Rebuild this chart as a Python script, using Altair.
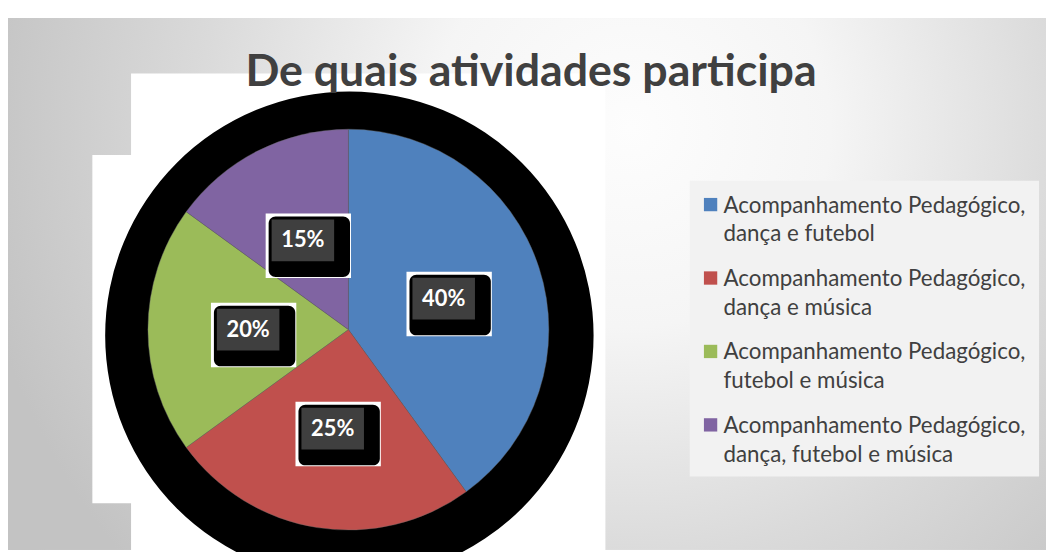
import math
import altair as alt
import pandas as pd

# ---------------- data ----------------
title_text = "De quais atividades participa"
categories = [
    "Acompanhamento Pedagógico, dança e futebol",
    "Acompanhamento Pedagógico, dança e música",
    "Acompanhamento Pedagógico, futebol e música",
    "Acompanhamento Pedagógico, dança, futebol e música",
]
legend_text = [
    "Acompanhamento Pedagógico,\ndança e futebol",
    "Acompanhamento Pedagógico,\ndança e música",
    "Acompanhamento Pedagógico,\nfutebol e música",
    "Acompanhamento Pedagógico,\ndança, futebol e música",
]
values = [40, 25, 20, 15]
labels = ["40%", "25%", "20%", "15%"]
colors = ["#4F81BD", "#C0504D", "#9BBB59", "#8064A2"]

# ---------------- layout ----------------
W, H = 1046, 544
CX, CY, R = 343, 322, 202
LABEL_R = 101
FONT = "Lato"

df = pd.DataFrame({"cat": categories, "value": values, "label": labels,
                   "legend": legend_text, "idx": list(range(len(values)))})
total = sum(values)
cum = df["value"].cumsum()
mid = (cum - df["value"] / 2) / total * 2 * math.pi
df["tx"] = CX + LABEL_R * mid.apply(math.sin)
df["ty"] = CY - LABEL_R * mid.apply(math.cos)
for name, (l, r, t, b) in {"w": (-37.5, 48.5, -27, 38),
                           "k": (-34.5, 47.5, -24, 37),
                           "g": (-31.5, 31.5, -21, 21)}.items():
    df[name + "x1"] = df["tx"] + l
    df[name + "x2"] = df["tx"] + r
    df[name + "y1"] = df["ty"] + t
    df[name + "y2"] = df["ty"] + b

one = pd.DataFrame({"a": [0]})

color_scale = alt.Scale(domain=categories, range=colors)

# background gradient
bg = alt.Chart(one).mark_rect(color={
    "gradient": "radial", "x1": 0.6, "y1": 0.35, "r1": 0,
    "x2": 0.6, "y2": 0.35, "r2": 0.64,
    "stops": [{"offset": 0, "color": "#fdfdfd"},
              {"offset": 0.3, "color": "#f5f5f5"},
              {"offset": 0.65, "color": "#dadada"},
              {"offset": 1, "color": "#c3c3c3"}]}).encode(
    x=alt.value(0), x2=alt.value(W), y=alt.value(8), y2=alt.value(H))

white_a = alt.Chart(one).mark_rect(color="white").encode(
    x=alt.value(124), x2=alt.value(602), y=alt.value(64), y2=alt.value(H))
white_b = alt.Chart(one).mark_rect(color="white").encode(
    x=alt.value(85), x2=alt.value(300), y=alt.value(146), y2=alt.value(497))

shadow = alt.Chart(one).mark_arc(theta=0, theta2=2 * math.pi, radius=246,
                                 color="black").encode(
    x=alt.value(344), y=alt.value(328))

pie = alt.Chart(df).mark_arc(radius=R, stroke="#6a6a6a", strokeWidth=0.4).encode(
    theta=alt.Theta("value:Q", stack=True),
    color=alt.Color("cat:N", scale=color_scale, legend=None),
    order=alt.Order("idx:Q"),
    x=alt.value(CX), y=alt.value(CY),
)

def box(prefix, fill, corner=0):
    return alt.Chart(df).mark_rect(color=fill, cornerRadius=corner).encode(
        x=alt.X(prefix + "x1:Q", scale=None, axis=None),
        x2=prefix + "x2:Q",
        y=alt.Y(prefix + "y1:Q", scale=None, axis=None),
        y2=prefix + "y2:Q",
    )

box_w = box("w", "white")
box_k = box("k", "black", 7)
box_g = box("g", "#3f3f3f")

label_txt = alt.Chart(df).mark_text(font=FONT, fontWeight="bold", fontSize=22,
                                    color="white", align="center",
                                    baseline="middle").encode(
    x=alt.X("tx:Q", scale=None, axis=None),
    y=alt.Y("ty:Q", scale=None, axis=None),
    text="label:N",
)

# legend
leg_bg = alt.Chart(one).mark_rect(color="#f2f2f2").encode(
    x=alt.value(687), x2=alt.value(1039), y=alt.value(172), y2=alt.value(470))
leg_y = alt.Scale(type="point", domain=categories, range=[196, 418], padding=0)
swatch = alt.Chart(df).mark_square(size=180, opacity=1).encode(
    x=alt.value(708),
    y=alt.Y("cat:N", scale=leg_y, axis=None),
    color=alt.Color("cat:N", scale=color_scale, legend=None),
)
leg_txt = alt.Chart(df).mark_text(font=FONT, fontSize=22.5, color="#404040",
                                  align="left", baseline="alphabetic",
                                  lineBreak="\n", lineHeight=29, dy=8).encode(
    x=alt.value(721),
    y=alt.Y("cat:N", scale=leg_y, axis=None),
    text="legend:N",
)

title = alt.Chart(one).mark_text(text=title_text, font=FONT, fontWeight="bold",
                                 fontSize=45, color="#404040", align="center",
                                 baseline="alphabetic").encode(
    x=alt.value(527), y=alt.value(77))

chart = alt.layer(bg, white_a, white_b, shadow, pie, box_w, box_k, box_g,
                  label_txt, leg_bg, swatch, leg_txt, title).resolve_scale(
    x="independent", y="independent", color="shared"
).properties(width=W, height=H, autosize=alt.AutoSizeParams(type="none"),
             padding=0, background="white").configure_view(stroke=None)

chart.save("out.html", embed_options={"renderer": "svg", "actions": False})
